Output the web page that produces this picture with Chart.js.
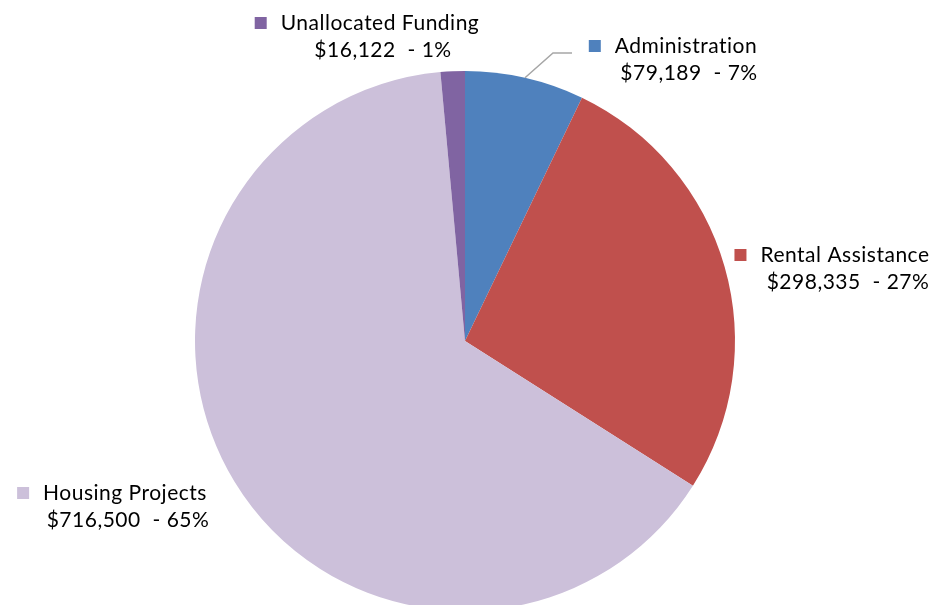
<!DOCTYPE html>
<html>
<head>
<meta charset="utf-8">
<script src="https://cdn.jsdelivr.net/npm/chart.js@4/dist/chart.umd.min.js"></script>
<style>
  html, body { margin: 0; padding: 0; background: #fff; overflow: hidden; }
  canvas { display: block; }
</style>
</head>
<body>
<canvas id="pie" width="935" height="620"></canvas>
<script>
// slices, clockwise from 12 o'clock
var categories = ["Administration", "Rental Assistance", "Housing Projects", "Unallocated Funding"];
var amounts = [79189, 298335, 716500, 16122];
var colors = ["#4F81BD", "#C0504D", "#CCC0DA", "#8064A2"];

// label placement relative to pie centre, in pixels (text centre, first line)
var labelOffsets = [[221, -295], [380, -86], [-340, 152], [-85, -318]];

var total = amounts.reduce(function (a, b) { return a + b; }, 0);

var labelPlugin = {
  id: 'sliceLabels',
  afterDraw: function (chart) {
    var ctx = chart.ctx;
    var arcs = chart.getDatasetMeta(0).data;
    ctx.save();
    ctx.font = '21px Lato, "DejaVu Sans", sans-serif';
    ctx.letterSpacing = '0.5px';
    ctx.textAlign = 'center';
    ctx.textBaseline = 'middle';
    arcs.forEach(function (arc, i) {
      var cx = arc.x + labelOffsets[i][0];
      var cy = arc.y + labelOffsets[i][1];
      var pct = Math.round(amounts[i] / total * 100);
      var line2 = '$' + amounts[i].toLocaleString('en-US') + '  - ' + pct + '%';
      var w = ctx.measureText(categories[i]).width;

      // leader line for the Administration slice
      if (i === 0) {
        var mid = (arc.startAngle + arc.endAngle) / 2;
        var px = arc.x + Math.cos(mid) * arc.outerRadius;
        var py = arc.y + Math.sin(mid) * arc.outerRadius;
        ctx.strokeStyle = '#A6A6A6';
        ctx.lineWidth = 1.5;
        ctx.beginPath();
        ctx.moveTo(px, py);
        ctx.lineTo(px + 28, cy + 7);
        ctx.lineTo(px + 47, cy + 7);
        ctx.stroke();
      }

      ctx.fillStyle = colors[i];
      ctx.fillRect(cx - w / 2 - 26, cy - 6, 12, 12);
      ctx.fillStyle = '#000';
      ctx.fillText(categories[i], cx, cy);
      ctx.fillText(line2, cx + 3, cy + 27);
    });
    ctx.restore();
  }
};

new Chart(document.getElementById('pie'), {
  type: 'pie',
  data: {
    labels: categories,
    datasets: [{
      data: amounts,
      backgroundColor: colors,
      borderWidth: 0
    }]
  },
  options: {
    responsive: false,
    animation: false,
    layout: { padding: { left: 195, right: 200, top: 71, bottom: 9 } },
    plugins: {
      legend: { display: false },
      tooltip: { enabled: false }
    }
  },
  plugins: [labelPlugin]
});
</script>
</body>
</html>
